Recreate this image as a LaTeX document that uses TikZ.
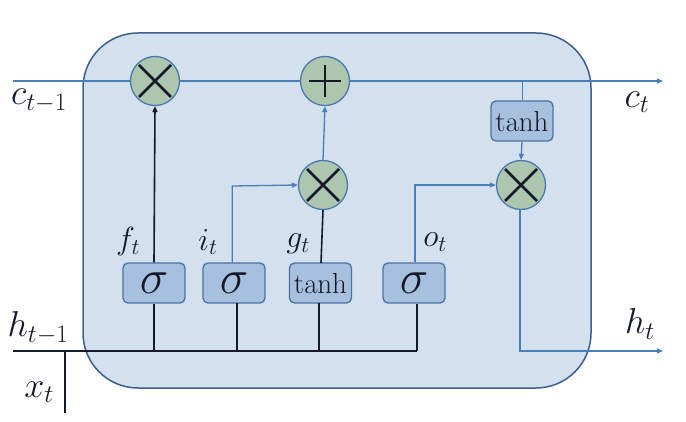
\RequirePackage{fix-cm}
\documentclass[tikz,border=0pt]{standalone}
\usetikzlibrary{arrows.meta}
\definecolor{cellfill}{HTML}{D3E0EE}
\definecolor{cellborder}{HTML}{3D5F8C}
\definecolor{gatefill}{HTML}{A7C0DE}
\definecolor{gateborder}{HTML}{4A72A8}
\definecolor{opfill}{HTML}{ADC6AE}
\definecolor{opborder}{HTML}{4A7AB0}
\definecolor{flow}{HTML}{4A7EBB}
\definecolor{ink}{HTML}{15192A}
\tikzset{
  gatebox/.style={draw=gateborder, fill=gatefill, line width=1.3pt, rounded corners=5pt,
    minimum width=62pt, minimum height=40pt, inner sep=0pt},
  opcirc/.style={draw=opborder, fill=opfill, line width=1.3pt, circle, minimum size=49pt, inner sep=0pt},
  blueline/.style={draw=flow, line width=1.3pt},
  blackline/.style={draw=ink, line width=1.6pt},
  tip/.style={-{Triangle[length=6pt,width=5pt]}},
  sym/.style={draw=ink, line width=2.6pt},
  lbl/.style={inner sep=0pt, text=ink, font=\fontsize{36}{38}\selectfont},
  glbl/.style={inner sep=0pt, text=ink, font=\fontsize{32}{34}\selectfont},
  sigtxt/.style={font=\fontsize{48}{48}\selectfont, text=ink},
  tanhtxt/.style={font=\fontsize{29}{29}\selectfont, text=ink},
}
\begin{document}
\begin{tikzpicture}[x=1pt,y=-1pt]
\useasboundingbox (0,0) rectangle (686,422);
% cell
\draw[draw=cellborder, fill=cellfill, line width=1.5pt, rounded corners=55pt] (83,33) rectangle (591,388);
% ops
\node[opcirc] (f) at (155,81) {};
\node[opcirc] (add) at (325,81) {};
\node[opcirc] (mg) at (323,185) {};
\node[opcirc] (mo) at (521,185) {};
\foreach \n in {f,mg,mo}{
  \draw[sym] ([shift={(-16,-16)}]\n.center) -- ([shift={(16,16)}]\n.center);
  \draw[sym] ([shift={(-16,16)}]\n.center) -- ([shift={(16,-16)}]\n.center);
}
\draw[sym] ([xshift=-16pt]add.center) -- ([xshift=16pt]add.center);
\draw[sym] ([yshift=-16pt]add.center) -- ([yshift=16pt]add.center);
% gates
\node[gatebox, sigtxt] (sf) at (154,283) {$\sigma$};
\node[gatebox, sigtxt] (si) at (234,283) {$\sigma$};
\node[gatebox, tanhtxt] (tg) at (320.5,283) {$\tanh$};
\node[gatebox, sigtxt] (so) at (414,283) {$\sigma$};
\node[gatebox, tanhtxt] (tc) at (522,121) {$\tanh$};
% coordinates
\coordinate (cin) at (13,81);
\coordinate (cout) at (663,81);
\coordinate (hin) at (13,351);
\coordinate (hend) at (417,351);
\coordinate (xb) at (65,413);
\coordinate (xt) at (65,351);
\coordinate (hout) at (663,351);
\coordinate (hc) at (520,351);
\coordinate (cbr) at (522.7,81);
\coordinate (ic) at (232.3,186);
\coordinate (oc) at (415,185);
% cell state
\draw[blueline] (cin) -- (f.west);
\draw[blueline] (f.east) -- (add.west);
\draw[blueline, tip] (add.east) -- (cout);
\draw[blueline] (cbr) -- (cbr |- tc.north);
\draw[blueline, tip] (tc.south) -- (mo.north);
\draw[blueline, tip] (mg.north) -- (add.south);
% input bus
\draw[blackline] (hin) -- (hend);
\draw[blackline] (xb) -- (xt);
\draw[blackline] (sf.south) -- (sf.south |- hin);
\draw[blackline] (236.7,303) -- (236.7,351);
\draw[blackline] (319,303) -- (319,351);
\draw[blackline] (so.south -| hend) -- (hend);
% gate outputs
\draw[blackline, tip] (sf.north) -- (f.south);
\draw[blueline, tip] (ic |- si.north) -- (ic) -- (mg.west);
\draw[blackline] (321,263) -- (mg.south);
\draw[blueline, tip] (oc |- so.north) -- (oc) -- (mo.west);
\draw[blueline, tip] ([xshift=-1pt]mo.south) -- (hc) -- (hout);
% labels
\node[lbl] (lc1) at (39,101) {$c_{t-1}$};
\node[lbl] (lc) at (637,102) {$c_t$};
\node[lbl] (lh1) at (38,328) {$h_{t-1}$};
\node[lbl] (lx) at (39,392) {$x_t$};
\node[lbl] (lh) at (640,324) {$h_t$};
\node[glbl] (lf) at (128,242) {$f_t$};
\node[glbl] (li) at (208,242) {$i_t$};
\node[glbl] (lg) at (298,244) {$g_t$};
\node[glbl] (lo) at (435,242) {$o_t$};
\end{tikzpicture}
\end{document}
